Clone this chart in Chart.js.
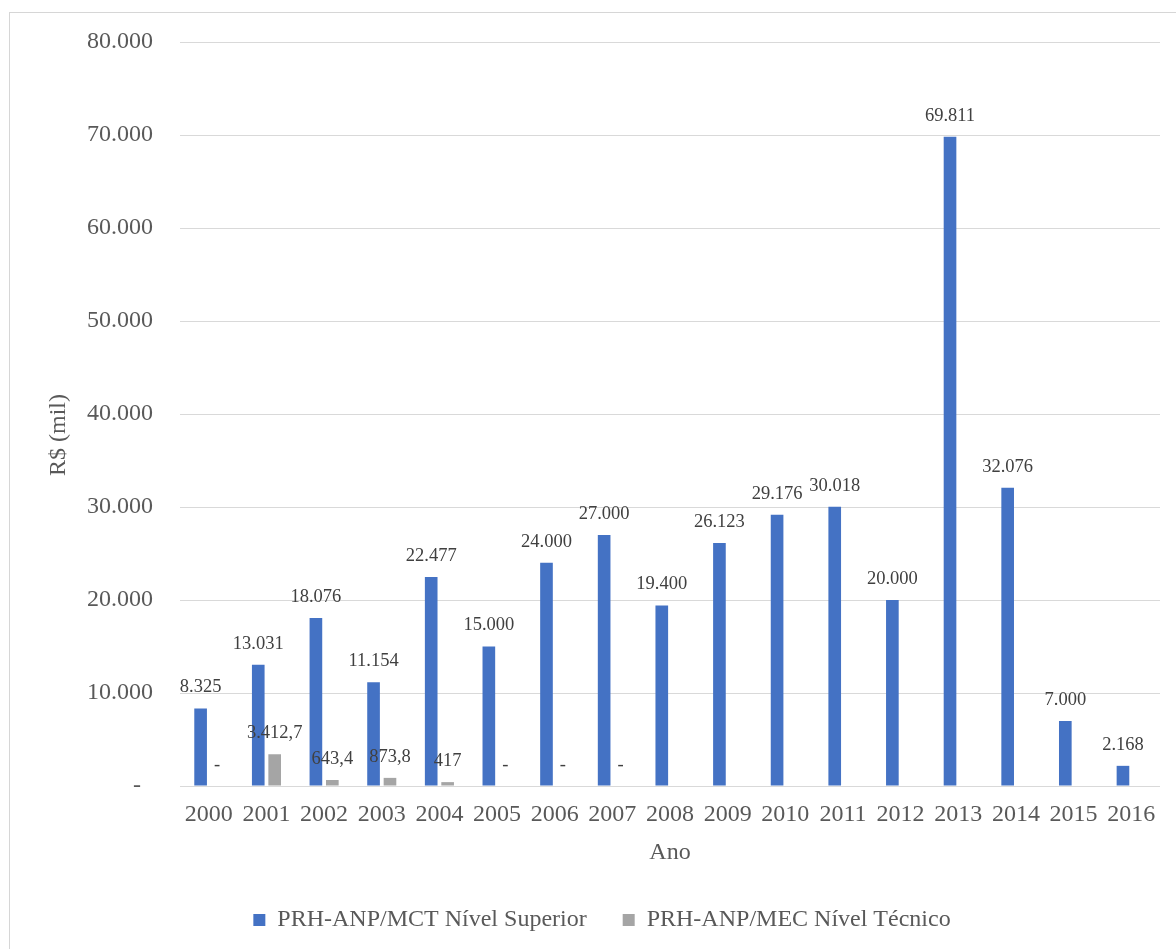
<!DOCTYPE html>
<html lang="pt-BR">
<head>
<meta charset="utf-8">
<title>PRH-ANP - recursos por ano</title>
<script src="https://cdn.jsdelivr.net/npm/chart.js@4.4.1/dist/chart.umd.min.js"></script>
<style>
    html, body { margin: 0; padding: 0; background: #ffffff; overflow: hidden; }
    .frame {
        position: absolute;
        left: 9px;
        top: 12px;
        width: 1200px;
        height: 960px;
        border: 1px solid #d6d6d6;
    }
    #grafico { position: absolute; left: 10px; top: 13px; }
</style>
</head>
<body>
<div class="frame"></div>
<canvas id="grafico" width="1166" height="936"></canvas>
<script>
// Valores em R$ mil
const anos = ['2000', '2001', '2002', '2003', '2004', '2005', '2006', '2007', '2008',
    '2009', '2010', '2011', '2012', '2013', '2014', '2015', '2016'];
const nivelSuperior = [8325, 13031, 18076, 11154, 22477, 15000, 24000, 27000, 19400,
    26123, 29176, 30018, 20000, 69811, 32076, 7000, 2168];
const nivelTecnico = [0, 3412.7, 643.4, 873.8, 417, 0, 0, 0, null,
    null, null, null, null, null, null, null, null];

const fonte = "'Liberation Serif', 'Times New Roman', serif";
const corTexto = '#595959';
const corGrade = '#d9d9d9';

// formato brasileiro: 3.412,7 ; zero vira traço
function formatar(v) {
    if (v === 0) return '-';
    const partes = String(v).split('.');
    const inteiro = partes[0].replace(/\B(?=(\d{3})+(?!\d))/g, '.');
    return partes.length > 1 ? inteiro + ',' + partes[1] : inteiro;
}

// rótulos de valor acima das barras
const rotulosBarras = {
    id: 'rotulosBarras',
    afterDatasetsDraw(chart) {
        const ctx = chart.ctx;
        ctx.save();
        ctx.font = '18.5px ' + fonte;
        ctx.fillStyle = '#404040';
        ctx.textAlign = 'center';
        ctx.textBaseline = 'middle';
        chart.data.datasets.forEach((ds, i) => {
            const meta = chart.getDatasetMeta(i);
            meta.data.forEach((bar, j) => {
                const v = ds.data[j];
                if (v === null || v === undefined) return;
                ctx.fillText(formatar(v), bar.x, bar.y - 21);
            });
        });
        ctx.restore();
    }
};

Chart.defaults.font.family = fonte;
Chart.defaults.color = corTexto;

new Chart(document.getElementById('grafico'), {
    type: 'bar',
    data: {
        labels: anos,
        datasets: [{
            label: 'PRH-ANP/MCT Nível Superior',
            data: nivelSuperior,
            backgroundColor: '#4472c4',
            categoryPercentage: 0.57,
            barPercentage: 0.77
        }, {
            label: 'PRH-ANP/MEC Nível Técnico',
            data: nivelTecnico,
            backgroundColor: '#a5a5a5',
            categoryPercentage: 0.57,
            barPercentage: 0.77
        }]
    },
    options: {
        responsive: false,
        animation: false,
        layout: {
            padding: { left: 34, right: 16, top: 29, bottom: 7 }
        },
        scales: {
            x: {
                grid: { display: false, drawTicks: false },
                border: { display: false },
                ticks: { font: { size: 24 }, color: corTexto, padding: 14 },
                title: {
                    display: true,
                    text: 'Ano',
                    font: { size: 24 },
                    color: corTexto,
                    padding: { top: 0, bottom: 5 }
                },
                afterFit(scale) { scale.height = 86; }
            },
            y: {
                min: 0,
                max: 80000,
                // marcas invisíveis só para afastar os rótulos da área do gráfico
                grid: { color: corGrade, drawTicks: true, tickLength: 27, tickColor: 'rgba(0,0,0,0)' },
                border: { display: false },
                ticks: {
                    stepSize: 10000,
                    font: { size: 24 },
                    color: corTexto,
                    padding: 0,
                    callback: (v) => v === 0 ? '-  ' : formatar(v)
                },
                title: {
                    display: true,
                    text: 'R$ (mil)       ',
                    font: { size: 24 },
                    color: corTexto,
                    padding: 0
                },
                afterFit(scale) { scale.width = 136; }
            }
        },
        plugins: {
            legend: {
                position: 'bottom',
                labels: {
                    boxWidth: 12,
                    boxHeight: 12,
                    padding: 36,
                    color: corTexto,
                    font: { size: 24 }
                }
            },
            tooltip: { enabled: false }
        }
    },
    plugins: [rotulosBarras]
});
</script>
</body>
</html>
